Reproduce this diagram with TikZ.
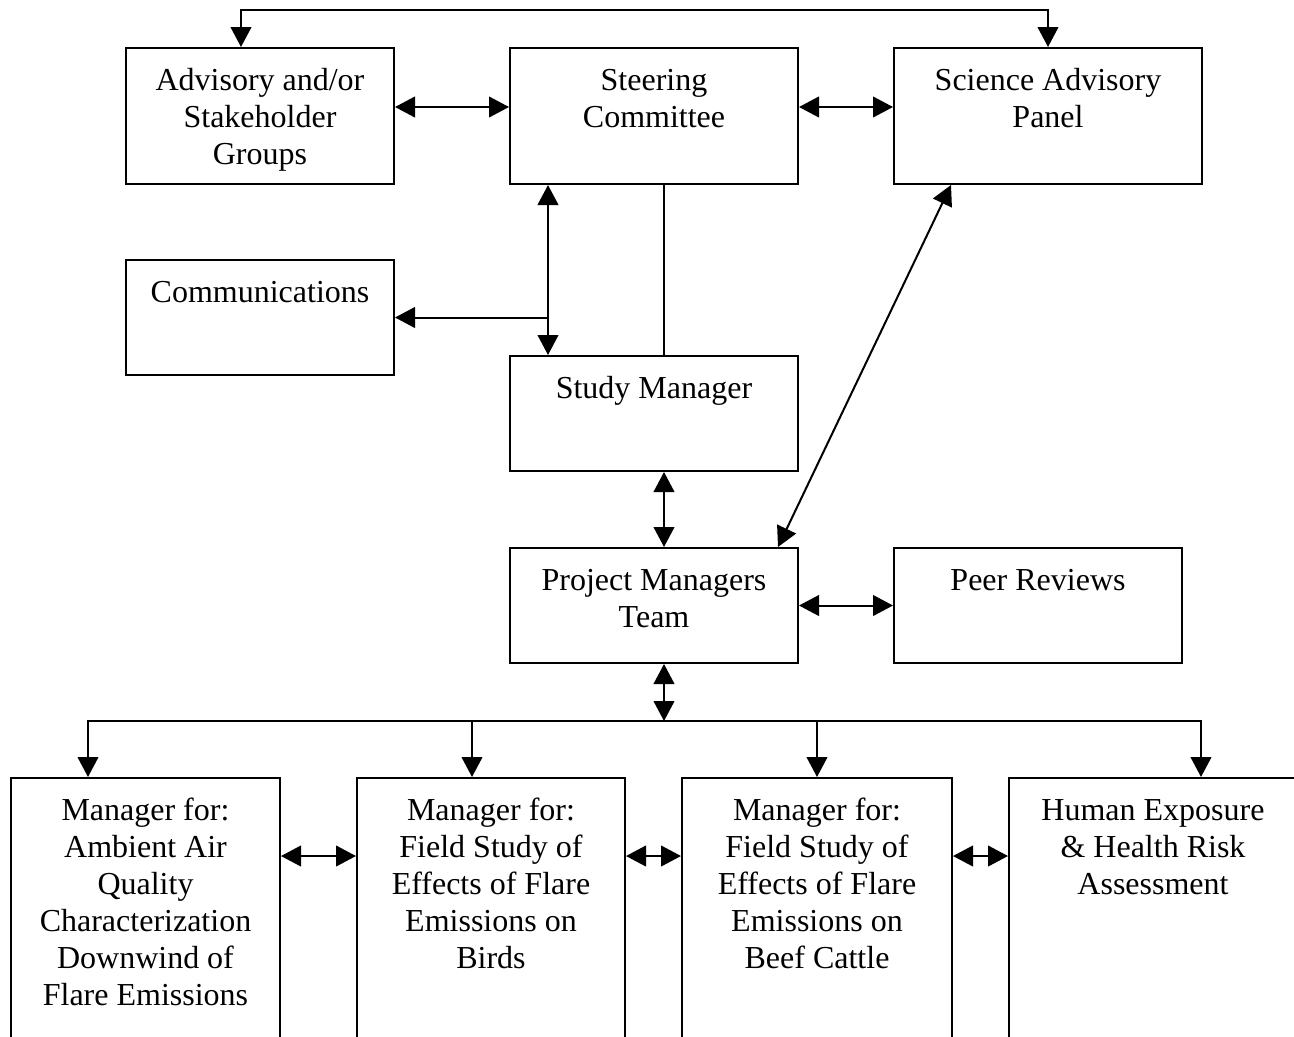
\documentclass[tikz,border=0pt]{standalone}
\usepackage{fontspec}
\setmainfont{Liberation Serif}
\usetikzlibrary{arrows.meta}
\newcommand{\boxtext}[3]{\parbox[c][#2][t]{#1}{\centering\fontsize{24pt}{27.75pt}\selectfont\rule{0pt}{31.5pt}#3\par}}
\begin{document}
\begin{tikzpicture}[x=0.75pt,y=-0.75pt,line width=1.5pt,
  box/.style={draw,inner sep=0pt,anchor=north west,line width=1.5pt},
  Tri/.tip={Triangle[length=15pt,width=15.5pt]}]
\useasboundingbox (0,0) rectangle (1294,1036);
\clip (0,0) rectangle (1294,1036);
% top row
\node[box] (adv) at (125,47) {\boxtext{201pt}{102pt}{Advisory and/or\\Stakeholder\\Groups}};
\node[box] (steer) at (509,47) {\boxtext{216pt}{102pt}{Steering\\Committee}};
\node[box] (sci) at (893,47) {\boxtext{231pt}{102pt}{Science Advisory\\Panel}};
% middle
\node[box] (comm) at (125,259) {\boxtext{201pt}{86.25pt}{Communications}};
\node[box] (sm) at (509,355) {\boxtext{216pt}{86.25pt}{Study Manager}};
\node[box] (pmt) at (509,547) {\boxtext{216pt}{86.25pt}{Project Managers\\Team}};
\node[box] (peer) at (893,547) {\boxtext{216pt}{86.25pt}{Peer Reviews}};
% bottom row
\node[box] (b1) at (10,777) {\boxtext{201.75pt}{225pt}{Manager for:\\Ambient Air\\Quality\\Characterization\\Downwind of\\Flare Emissions}};
\node[box] (b2) at (356,777) {\boxtext{201pt}{225pt}{Manager for:\\Field Study of\\Effects of Flare\\Emissions on\\Birds}};
\node[box] (b3) at (681,777) {\boxtext{202.5pt}{225pt}{Manager for:\\Field Study of\\Effects of Flare\\Emissions on\\Beef Cattle}};
\node[box] (b4) at (1008,777) {\boxtext{216pt}{225pt}{Human Exposure\\\& Health Risk\\Assessment}};
% connectors
\draw[Tri-Tri] ([xshift=-14.25pt]adv.north) -- ++(0,-37) -| (sci.north);
\draw[Tri-Tri] ([yshift=6.75pt]adv.east) -- ([yshift=6.75pt]steer.west);
\draw[Tri-Tri] ([yshift=6.75pt]steer.east) -- ([yshift=6.75pt]sci.west);
\draw[Tri-Tri] ([xshift=-79.5pt]steer.south) -- ([xshift=-79.5pt]sm.north);
\coordinate (branch) at ([xshift=-79.5pt]sm.north |- comm.east);
\draw[-Tri] (branch) -- (comm.east);
\draw ([xshift=7.5pt]steer.south) -- ([xshift=7.5pt]sm.north);
\draw[Tri-Tri] ([xshift=7.5pt]sm.south) -- ([xshift=7.5pt]pmt.north);
\draw[Tri-Tri] ([xshift=-72.75pt]sci.south) -- ([xshift=93pt]pmt.north);
\draw[Tri-Tri] (pmt.east) -- (peer.west);
\coordinate (busm) at ([xshift=7.5pt,yshift=-42.75pt]pmt.south);
\draw[Tri-Tri] ([xshift=7.5pt]pmt.south) -- (busm);
\coordinate (busL) at ([xshift=-43.125pt]b1.north |- busm);
\coordinate (busR) at ([xshift=36pt]b4.north |- busm);
\draw[Tri-Tri] (busL |- b1.north) -- (busL) -- (busR) -- (busR |- b4.north);
\draw[-Tri] ([xshift=-14.25pt]b2.north |- busm) -- ([xshift=-14.25pt]b2.north);
\draw[-Tri] (b3.north |- busm) -- (b3.north);
\draw[Tri-Tri] ([yshift=54pt]b1.east) -- ([yshift=54pt]b2.west);
\draw[Tri-Tri] ([yshift=54pt]b2.east) -- ([yshift=54pt]b3.west);
\draw[Tri-Tri] ([yshift=54pt]b3.east) -- ([yshift=54pt]b4.west);
\end{tikzpicture}
\end{document}
